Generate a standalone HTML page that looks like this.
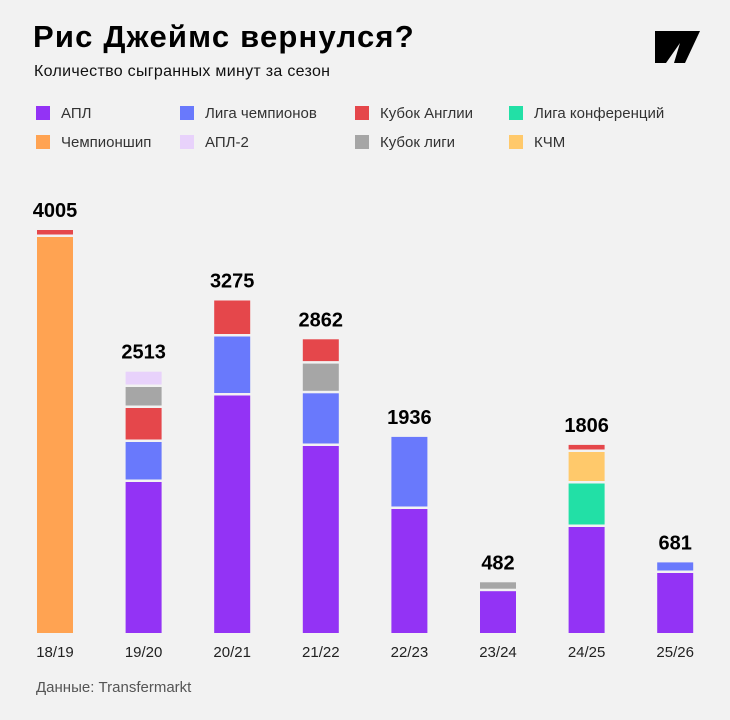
<!DOCTYPE html>
<html><head><meta charset="utf-8"><style>
body{margin:0;background:#f2f2f2;}
#root{position:relative;width:730px;height:720px;background:#f2f2f2;font-family:"Liberation Sans",sans-serif;overflow:hidden}
</style></head><body>
<div id="root">
<svg id="svg" width="730" height="720">
<text x="33" y="47" font-size="31" font-weight="bold" letter-spacing="1.2" fill="#000">Рис Джеймс вернулся?</text>
<text x="34" y="76" font-size="16" letter-spacing="0.3" fill="#111">Количество сыгранных минут за сезон</text>
<polygon points="655,31 700,31 685,63 674,63 680,43 666,63 655,63" fill="#000"/>
<text x="36" y="692" font-size="15" fill="#555">Данные: Transfermarkt</text>
<g id="legend"></g>
<g id="bars"></g>
</svg>
</div>
<script>
const categories=["18/19","19/20","20/21","21/22","22/23","23/24","24/25","25/26"];
const totals=[4005,2513,3275,2862,1936,482,1806,681];
const seriesNames=["АПЛ","Лига чемпионов","Кубок Англии","Лига конференций","Чемпионшип","АПЛ-2","Кубок лиги","КЧМ"];
const seriesColors=["#9333f5","#6979fc","#e5474b","#22e0a6","#ffa352","#e8d2fb","#a6a6a6","#ffc96b"];
const apl=[0,1510,2375,1870,1240,418,1060,600];
const ucl=[0,375,565,502,696,0,0,81];
const facup=[45,315,335,218,0,0,46,0];
const uecl=[0,0,0,0,0,0,410,0];
const champ=[3960,0,0,0,0,0,0,0];
const apl2=[0,128,0,0,0,0,0,0];
const lcup=[0,185,0,272,0,64,0,0];
const cwc=[0,0,0,0,0,0,290,0];
const stackOrder=[[4,2],[0,1,2,6,5],[0,1,2],[0,1,6,2],[0,1],[0,6],[0,3,7,2],[0,1]];
const seriesData=[apl,ucl,facup,uecl,champ,apl2,lcup,cwc];
const NS="http://www.w3.org/2000/svg";
const baseY=633, pxPer=0.1, gap=2.5, barW=36;
const xC=i=>55+i*88.6;
const yS=v=>v*pxPer;
const legend=document.getElementById('legend');
const legX=[36,180,355,509], legY=[113,142];
const legendOrder=[0,1,2,3,4,5,6,7];
legendOrder.forEach((s,k)=>{
  const lx=legX[k%4], ly=legY[Math.floor(k/4)];
  const r=document.createElementNS(NS,'rect');
  r.setAttribute('x',lx);r.setAttribute('y',ly-7);r.setAttribute('width',14);r.setAttribute('height',14);r.setAttribute('fill',seriesColors[s]);
  
  
  legend.appendChild(r);
  const t=document.createElementNS(NS,'text');
  t.setAttribute('x',lx+25);t.setAttribute('y',ly+5);t.setAttribute('font-size','15');t.setAttribute('fill','#333');
  t.textContent=seriesNames[s];
  
  
  legend.appendChild(t);
});
const bars=document.getElementById('bars');
categories.forEach((c,i)=>{
  let y=baseY;
  stackOrder[i].forEach((s,j)=>{
    const v=seriesData[s][i]; if(!v) return;
    if(j>0) y-=gap;
    const h=yS(v);
    const r=document.createElementNS(NS,'rect');
    r.setAttribute('x',xC(i)-barW/2);r.setAttribute('y',y-h);r.setAttribute('width',barW);r.setAttribute('height',h);
    r.setAttribute('fill',seriesColors[s]);
    
    
    bars.appendChild(r);
    y-=h;
  });
  const tl=document.createElementNS(NS,'text');
  tl.setAttribute('x',xC(i));tl.setAttribute('y',y-13);tl.setAttribute('text-anchor','middle');tl.setAttribute('font-size','20');tl.setAttribute('font-weight','bold');
  tl.textContent=totals[i];
  
  
  bars.appendChild(tl);
  const cl=document.createElementNS(NS,'text');
  cl.setAttribute('x',xC(i));cl.setAttribute('y',657);cl.setAttribute('text-anchor','middle');cl.setAttribute('font-size','15');cl.setAttribute('fill','#222');
  cl.textContent=c;
  
  
  bars.appendChild(cl);
});
</script>
</body></html>
